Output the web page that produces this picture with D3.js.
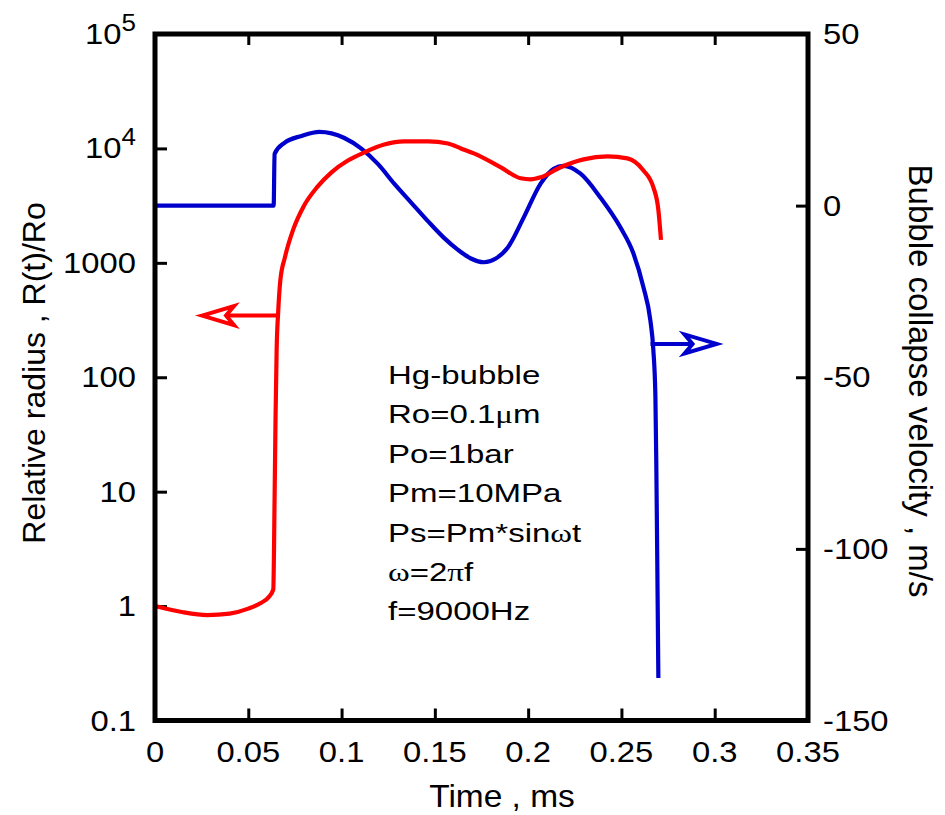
<!DOCTYPE html>
<html>
<head>
<meta charset="utf-8">
<script src="https://cdn.jsdelivr.net/npm/d3@7"></script>
<style>
  html, body { margin: 0; padding: 0; background: #fff; }
  svg { display: block; }
  text { font-family: "Liberation Sans", Arial, sans-serif; fill: #000; }
</style>
</head>
<body>
<svg id="chart" width="945" height="815"></svg>
<script>
// ---- data ----
const redT = [0, 0.0144, 0.028, 0.040, 0.050, 0.0565, 0.061, 0.0634, 0.0641, 0.0646, 0.0652, 0.0660, 0.0672, 0.0697, 0.0740, 0.0795, 0.0870, 0.0946, 0.1036, 0.1122, 0.1229, 0.1335, 0.1464, 0.157, 0.164, 0.1709, 0.1854, 0.196, 0.2014, 0.2067, 0.2174, 0.2297, 0.2425, 0.2532, 0.2617, 0.2671, 0.2698, 0.2712];
const redR = [1.0, 0.887, 0.835, 0.86, 0.95, 1.06, 1.20, 1.40, 8.7, 43, 175, 365, 710, 1127, 1940, 3080, 4610, 6180, 7870, 9230, 10800, 11500, 11500, 11050, 10000, 9050, 6840, 5480, 5370, 5590, 6840, 8020, 8510, 8180, 6440, 4580, 2890, 1585];

const blueT = [0, 0.0636, 0.0641, 0.0694, 0.0785, 0.0881, 0.1015, 0.1106, 0.1197, 0.1282, 0.1373, 0.1464, 0.1549, 0.1624, 0.1693, 0.1763, 0.1827, 0.1891, 0.1976, 0.2067, 0.2137, 0.219, 0.2281, 0.2388, 0.2495, 0.2564, 0.2618, 0.2655, 0.2671, 0.2682, 0.2687, 0.2692, 0.2698];
const blueV = [0, 0, 15.1, 18.3, 20.3, 21.5, 19.7, 16.6, 12.0, 6.4, 0.9, -4.6, -9.4, -12.9, -15.4, -16.5, -15.4, -12.2, -3.5, 6.4, 10.7, 11.6, 9.3, 2.3, -6.4, -13.9, -23.8, -33.4, -42, -55.4, -75.5, -103, -137.6];

const xTicks = [0, 0.05, 0.1, 0.15, 0.2, 0.25, 0.3, 0.35];
const xTickLabels = ["0", "0.05", "0.1", "0.15", "0.2", "0.25", "0.3", "0.35"];
const leftTicks = [0.1, 1, 10, 100, 1000, 1e4, 1e5];
const leftTickLabels = [["0.1"], ["1"], ["10"], ["100"], ["1000"], ["10", "4"], ["10", "5"]];
const rightTicks = [-150, -100, -50, 0, 50];
const rightTickLabels = ["-150", "-100", "-50", "0", "50"];

const annotation = [
  [["Hg-bubble", 0]],
  [["Ro=0.1", 0], ["\u03bc", 1], ["m", 0]],
  [["Po=1bar", 0]],
  [["Pm=10MPa", 0]],
  [["Ps=Pm*sin", 0], ["\u03c9", 1], ["t", 0]],
  [["\u03c9", 1], ["=2", 0], ["\u03c0", 1], ["f", 0]],
  [["f=9000Hz", 0]]
];
// arrows: [t_start, t_tip, value]
const redArrow = [0.0655, 0.0252, 346];
const blueArrow = [0.2656, 0.3010, -40.3];

// ---- layout ----
const L = 155, R = 808, T = 34, B = 720.5;
const svg = d3.select("#chart");

const x = d3.scaleLinear().domain([0, 0.35]).range([L, R]);
const yL = d3.scaleLog().domain([0.1, 1e5]).range([B, T]);
const yR = d3.scaleLinear().domain([-150, 50]).range([B, T]);

function styleTicks(g) {
  g.select(".domain").remove();
  g.selectAll("line").attr("stroke", "#000").attr("stroke-width", 3);
}
// ticks via axes (inward)
svg.append("g").attr("transform", `translate(0,${B})`)
  .call(d3.axisBottom(x).tickValues(xTicks.slice(1, -1)).tickSize(-12).tickFormat("")).call(styleTicks);
svg.append("g").attr("transform", `translate(0,${T})`)
  .call(d3.axisTop(x).tickValues(xTicks.slice(1, -1)).tickSize(-11).tickFormat("")).call(styleTicks);
svg.append("g").attr("transform", `translate(${L},0)`)
  .call(d3.axisLeft(yL).tickValues(leftTicks.slice(1, -1)).tickSize(-12).tickFormat("")).call(styleTicks);
svg.append("g").attr("transform", `translate(${R},0)`)
  .call(d3.axisRight(yR).tickValues(rightTicks.slice(1, -1)).tickSize(-12).tickFormat("")).call(styleTicks);

// curves
const redLine = d3.line().x((d, i) => x(redT[i])).y(d => yL(d)).curve(d3.curveMonotoneX);
const blueLine = d3.line().x((d, i) => x(blueT[i])).y(d => yR(d)).curve(d3.curveMonotoneX);

svg.append("path").attr("d", blueLine(blueV)).attr("fill", "none")
  .attr("stroke", "#0000cc").attr("stroke-width", 4.2).attr("stroke-linejoin", "round");
svg.append("path").attr("d", redLine(redR)).attr("fill", "none")
  .attr("stroke", "#ff0000").attr("stroke-width", 4.2).attr("stroke-linejoin", "round");

// arrows
function arrow(x0, x1, y, color) {
  const dir = Math.sign(x1 - x0);
  const len = 32, hw = 9.5, notch = 8;
  svg.append("line").attr("x1", x0).attr("x2", x1 - dir * notch).attr("y1", y).attr("y2", y)
    .attr("stroke", color).attr("stroke-width", 4);
  const bx = x1 - dir * len;
  svg.append("path")
    .attr("d", `M${x1},${y} L${bx},${y - hw} L${bx + dir * notch},${y} L${bx},${y + hw} Z`)
    .attr("fill", "#fff").attr("stroke", color).attr("stroke-width", 4).attr("stroke-linejoin", "miter");
}
arrow(x(redArrow[0]), x(redArrow[1]), yL(redArrow[2]), "#ff0000");
arrow(x(blueArrow[0]), x(blueArrow[1]), yR(blueArrow[2]), "#0000cc");

// frame
svg.append("rect").attr("x", L).attr("y", T).attr("width", R - L).attr("height", B - T)
  .attr("fill", "none").attr("stroke", "#000").attr("stroke-width", 5);

// text helper (horizontal stretch to match reference glyph proportions)
function label(px, py, txt, size, sx, anchor) {
  const g = svg.append("g").attr("transform", `translate(${px},${py}) scale(${sx},1)`);
  return g.append("text").attr("text-anchor", anchor).attr("font-size", size).text(txt);
}

// x tick labels
xTicks.forEach((v, i) => label(x(v), 762, xTickLabels[i], 29, 1.13, "middle"));

// left tick labels
leftTicks.forEach((v, i) => {
  const parts = leftTickLabels[i];
  const py = yL(v) + 10;
  const g = svg.append("g").attr("transform", `translate(136,${py}) scale(1.13,1)`);
  const t = g.append("text").attr("text-anchor", "end").attr("font-size", 29);
  t.append("tspan").text(parts[0]);
  if (parts[1]) t.append("tspan").attr("font-size", 23).attr("dy", -13).text(parts[1]);
});

// right tick labels
rightTicks.forEach((v, i) => label(823, yR(v) + 10, rightTickLabels[i], 29, 1.13, "start"));

// axis titles
label(502, 807, "Time , ms", 31, 1.08, "middle");
svg.append("text").attr("transform", "translate(45,373) rotate(-90)")
  .attr("text-anchor", "middle").attr("font-size", 32).text("Relative radius , R(t)/Ro");
svg.append("text").attr("transform", "translate(909,381) rotate(90)")
  .attr("text-anchor", "middle").attr("font-size", 33).text("Bubble collapse velocity , m/s");

// annotation
annotation.forEach((line, i) => {
  const g = svg.append("g").attr("transform", `translate(388,${384 + i * 39.4}) scale(1.27,1)`);
  const t = g.append("text").attr("font-size", 26);
  line.forEach(([s, serif]) => {
    const ts = t.append("tspan").text(s);
    if (serif) ts.attr("font-family", "'Liberation Serif', 'Times New Roman', serif");
  });
});
</script>
</body>
</html>
